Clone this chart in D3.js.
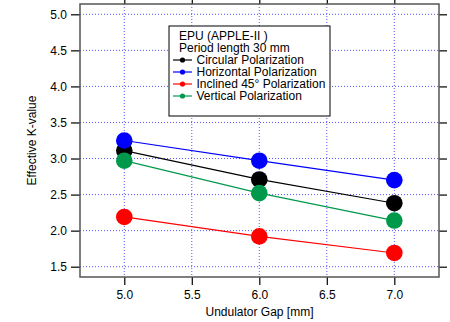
<!DOCTYPE html>
<html>
<head>
<meta charset="utf-8">
<script src="https://cdn.jsdelivr.net/npm/d3@7"></script>
<style>
  body { margin: 0; background: #fff; }
  text { font-family: "Liberation Sans", Arial, sans-serif; }
</style>
</head>
<body>
<div id="chart"></div>
<script>
var gaps = [5.0, 6.0, 7.0];
var circular = [3.11, 2.71, 2.38];
var horizontal = [3.25, 2.97, 2.70];
var inclined = [2.19, 1.92, 1.69];
var vertical = [2.97, 2.52, 2.14];
var seriesNames = ["Circular Polarization", "Horizontal Polarization", "Inclined 45\u00b0 Polarization", "Vertical Polarization"];
var seriesColors = ["#000000", "#0000ff", "#ff0000", "#00994c"];
var xTicks = [5.0, 5.5, 6.0, 6.5, 7.0];
var yTicks = [1.5, 2.0, 2.5, 3.0, 3.5, 4.0, 4.5, 5.0];

var series = [circular, horizontal, inclined, vertical];

var W = 450, H = 322;
var m = {left: 80, top: 4, right: 11, bottom: 45};

var svg = d3.select("#chart").append("svg").attr("width", W).attr("height", H);

var x = d3.scaleLinear().domain([4.672, 7.331]).range([m.left, W - m.right]);
var y = d3.scaleLinear().domain([1.357, 5.143]).range([H - m.bottom, m.top]);

// grid
var grid = svg.append("g");
grid.selectAll("line.gx").data(xTicks).enter().append("line")
  .attr("x1", d => x(d)).attr("x2", d => x(d))
  .attr("y1", m.top).attr("y2", H - m.bottom)
  .attr("stroke", "#5555ff").attr("stroke-width", 1).attr("stroke-dasharray", "1,2");
grid.selectAll("line.gy").data(yTicks).enter().append("line")
  .attr("y1", d => y(d)).attr("y2", d => y(d))
  .attr("x1", m.left).attr("x2", W - m.right)
  .attr("stroke", "#5555ff").attr("stroke-width", 1).attr("stroke-dasharray", "1,2");

// axes
var fmt = d3.format(".1f");
svg.append("g").attr("transform", "translate(0," + (H - m.bottom) + ")")
  .call(d3.axisBottom(x).tickValues(xTicks).tickFormat(fmt).tickSizeInner(8).tickSizeOuter(0).tickPadding(5))
  .call(g => g.select(".domain").remove());
svg.append("g").attr("transform", "translate(0," + m.top + ")")
  .call(d3.axisTop(x).tickValues(xTicks).tickFormat("").tickSizeInner(8).tickSizeOuter(0))
  .call(g => g.select(".domain").remove());
svg.append("g").attr("transform", "translate(" + m.left + ",0)")
  .call(d3.axisLeft(y).tickValues(yTicks).tickFormat(fmt).tickSizeInner(9).tickSizeOuter(0).tickPadding(4))
  .call(g => g.select(".domain").remove());
svg.append("g").attr("transform", "translate(" + (W - m.right) + ",0)")
  .call(d3.axisRight(y).tickValues(yTicks).tickFormat("").tickSizeInner(8).tickSizeOuter(0))
  .call(g => g.select(".domain").remove());
svg.selectAll(".tick text").attr("font-size", 12).attr("fill", "#000")
  .style("font-family", "'Liberation Sans', Arial, sans-serif");
svg.selectAll(".tick line").attr("stroke", "#000").attr("stroke-width", 1.2);

// frame
svg.append("rect").attr("x", m.left).attr("y", m.top)
  .attr("width", W - m.right - m.left).attr("height", H - m.bottom - m.top)
  .attr("fill", "none").attr("stroke", "#555").attr("stroke-width", 1.5);

// series
var line = d3.line().x((d, i) => x(gaps[i])).y(d => y(d));
series.forEach(function(s, k) {
  svg.append("path").datum(s).attr("d", line)
    .attr("fill", "none").attr("stroke", seriesColors[k]).attr("stroke-width", 1.2);
});
series.forEach(function(s, k) {
  svg.selectAll(null).data(s).enter().append("circle")
    .attr("cx", (d, i) => x(gaps[i])).attr("cy", d => y(d)).attr("r", 8.3)
    .attr("fill", seriesColors[k]);
});

// axis titles
svg.append("text").attr("x", (m.left + W - m.right) / 2).attr("y", 316)
  .attr("text-anchor", "middle").attr("font-size", 12).text("Undulator Gap [mm]");
svg.append("text").attr("transform", "translate(36," + ((m.top + H - m.bottom) / 2) + ") rotate(-90)")
  .attr("text-anchor", "middle").attr("font-size", 12).text("Effective K-value");

// legend
var lg = svg.append("g");
lg.append("rect").attr("x", 169).attr("y", 26).attr("width", 161).attr("height", 90)
  .attr("fill", "#fff").attr("stroke", "#000").attr("stroke-width", 1);
lg.append("text").attr("x", 179).attr("y", 39.5).attr("font-size", 12).text("EPU (APPLE-II )");
lg.append("text").attr("x", 179).attr("y", 51.5).attr("font-size", 12).text("Period length 30 mm");
seriesNames.forEach(function(n, k) {
  var cy = 60 + k * 12;
  lg.append("line").attr("x1", 173).attr("x2", 192).attr("y1", cy).attr("y2", cy)
    .attr("stroke", seriesColors[k]).attr("stroke-width", 1.2);
  lg.append("circle").attr("cx", 182.5).attr("cy", cy).attr("r", 2.6).attr("fill", seriesColors[k]);
  lg.append("text").attr("x", 196.5).attr("y", cy + 4.3).attr("font-size", 12).text(n);
});
</script>
</body>
</html>
